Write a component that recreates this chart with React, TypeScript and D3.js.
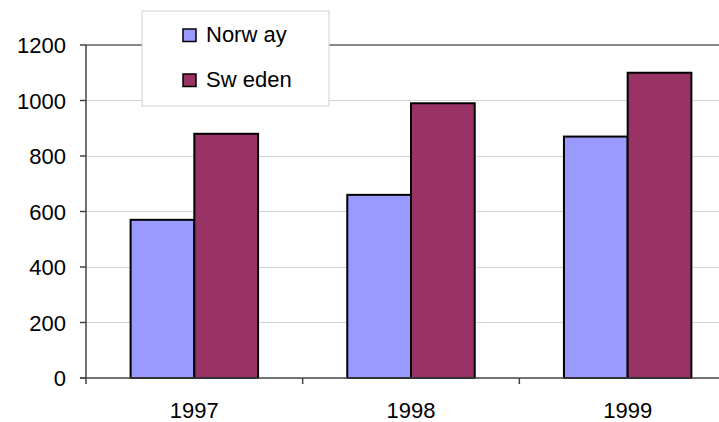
import * as d3 from "d3";

const W = 719;
const H = 422;

const YEARS = ["1997", "1998", "1999"];
const SERIES = ["Norway", "Sweden"];
const LEGEND_LABELS = ["Norw ay", "Sw eden"];
const NORWAY = [570, 660, 870];
const SWEDEN = [880, 990, 1100];
const COLORS = ["#9999FF", "#993366"];
const Y_TICKS = [0, 200, 400, 600, 800, 1000, 1200];

const LEFT = 86;
const BOTTOM = 378;
const TOP = 45;
const FONT = "'Liberation Sans', Arial, sans-serif";

export default function App() {
  // the plot area runs past the right edge of the window, as in the source
  const step = (W - LEFT + 17) / YEARS.length;
  const x0 = d3.scaleBand().domain(YEARS).range([LEFT, LEFT + step * YEARS.length]);
  const x1 = d3.scaleBand().domain(SERIES).range([0, x0.bandwidth()]).paddingInner(0).paddingOuter(0.7);
  const y = d3.scaleLinear().domain([0, 1200]).range([BOTTOM, TOP]);
  const values = [NORWAY, SWEDEN];

  return (
    <svg width={W} height={H} style={{ position: "absolute", left: 0, top: 0, background: "#fff", fontFamily: FONT }}>
      {/* gridlines */}
      {Y_TICKS.filter((t) => t > 0).map((t) => (
        <line key={t} x1={LEFT} x2={W} y1={y(t)} y2={y(t)}
          stroke={t === 1200 ? "#888" : "#d4d4d4"} strokeWidth={t === 1200 ? 2 : 1} shapeRendering="crispEdges" />
      ))}

      {/* bars */}
      {YEARS.map((yr, i) => (
        <g key={yr} transform={`translate(${x0(yr)},0)`}>
          {SERIES.map((s, j) => (
            <rect key={s} x={x1(s)} y={y(values[j][i])} width={x1.bandwidth()} height={BOTTOM - y(values[j][i])}
              fill={COLORS[j]} stroke="#000" strokeWidth={2} />
          ))}
        </g>
      ))}

      {/* axes */}
      <line x1={LEFT} x2={LEFT} y1={TOP} y2={BOTTOM + 6} stroke="#444" strokeWidth={1.5} />
      <line x1={LEFT - 6} x2={W} y1={BOTTOM} y2={BOTTOM} stroke="#444" strokeWidth={1.5} />
      {Y_TICKS.map((t) => (
        <g key={t}>
          <line x1={LEFT - 6} x2={LEFT} y1={y(t)} y2={y(t)} stroke="#444" strokeWidth={1.5} />
          <text x={66} y={y(t) + 8} textAnchor="end" fontSize={22} fill="#000">{t}</text>
        </g>
      ))}
      {YEARS.map((yr) => (
        <g key={yr}>
          <line x1={x0(yr)! + x0.bandwidth()} x2={x0(yr)! + x0.bandwidth()} y1={BOTTOM} y2={BOTTOM + 6} stroke="#444" strokeWidth={1.5} />
          <text x={x0(yr)! + x0.bandwidth() / 2} y={418} textAnchor="middle" fontSize={22} fill="#000">{yr}</text>
        </g>
      ))}

      {/* legend */}
      <rect x={142} y={11} width={187} height={95} fill="#fff" stroke="#d0d0d0" strokeWidth={1} />
      {SERIES.map((s, j) => (
        <g key={s} transform={`translate(183,${29 + j * 45})`}>
          <rect x={0} y={0} width={13} height={12.5} fill={COLORS[j]} stroke="#000" strokeWidth={1.5} />
          <text x={23} y={12.5} fontSize={22} fill="#000">{LEGEND_LABELS[j]}</text>
        </g>
      ))}
    </svg>
  );
}
